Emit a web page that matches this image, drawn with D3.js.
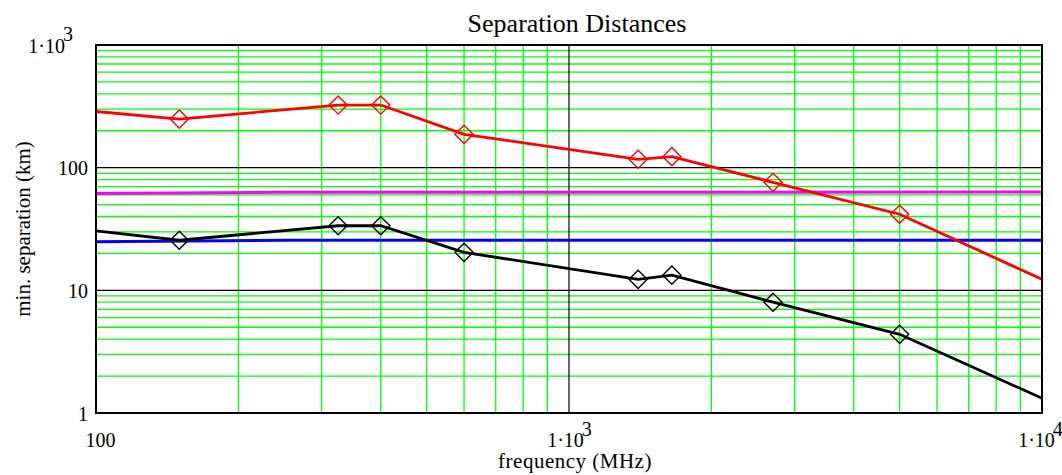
<!DOCTYPE html>
<html>
<head>
<meta charset="utf-8">
<script src="https://cdn.jsdelivr.net/npm/d3@7"></script>
<style>
  body { margin: 0; background: #fff; }
  text { font-family: "Liberation Serif", "Times New Roman", serif; fill: #000; }
</style>
</head>
<body>
<div id="chart"></div>
<script>
// frequencies (MHz) the curves are drawn through
const freqs = [100, 150, 325, 400, 600, 1400, 1650, 2700, 5000, 10000];
const redSep = [287, 249, 324, 324, 187, 117, 123, 76, 41.7, 12.3];
const blackSep = [30.5, 25.6, 33.6, 33.6, 20.4, 12.3, 13.3, 8.0, 4.38, 1.32];

// diamond markers
const markerFreqs = [150, 325, 400, 600, 1400, 1650, 2700, 5000];
const redMarkers = [249, 324, 324, 187, 117, 123, 76, 41.7];
const blackMarkers = [25.6, 33.6, 33.6, 20.4, 12.3, 13.3, 8.0, 4.38];

// flat limit lines
const limitFreqs = [100, 250, 10000];
const magentaSep = [61.5, 63, 63.2];
const blueSep = [24.9, 25.6, 25.6];

const xTicks = [100, 1000, 10000];
const yTicks = [1, 10, 100, 1000];

function drawChart() {
    const margin = {top: 45, right: 20, bottom: 62, left: 96};
    const width = 1062 - margin.left - margin.right;
    const height = 475 - margin.top - margin.bottom;

    const root = d3.select("#chart").append("svg")
        .attr("width", 1062)
        .attr("height", 475);

    const svg = root.append("g")
        .attr("transform", `translate(${margin.left},${margin.top})`);

    const x = d3.scaleLog().domain([100, 10000]).range([0, width]);
    const y = d3.scaleLog().domain([1, 1000]).range([height, 0]);

    const isMajor = v => Math.abs(Math.log10(v) - Math.round(Math.log10(v))) < 1e-9;

    // minor grid (green)
    svg.append("g").selectAll("line")
        .data(x.ticks().filter(v => !isMajor(v)))
        .enter().append("line")
        .attr("x1", d => x(d)).attr("x2", d => x(d))
        .attr("y1", 0).attr("y2", height)
        .attr("stroke", "#00ff00").attr("stroke-width", 1.3);

    svg.append("g").selectAll("line")
        .data(y.ticks().filter(v => !isMajor(v)))
        .enter().append("line")
        .attr("x1", 0).attr("x2", width)
        .attr("y1", d => y(d)).attr("y2", d => y(d))
        .attr("stroke", "#00ff00").attr("stroke-width", 1.3);

    // major grid (black)
    svg.append("g").selectAll("line")
        .data(xTicks.slice(1, -1))
        .enter().append("line")
        .attr("x1", d => x(d)).attr("x2", d => x(d))
        .attr("y1", 0).attr("y2", height)
        .attr("stroke", "#000").attr("stroke-width", 1.2);

    svg.append("g").selectAll("line")
        .data(yTicks.slice(1, -1))
        .enter().append("line")
        .attr("x1", 0).attr("x2", width)
        .attr("y1", d => y(d)).attr("y2", d => y(d))
        .attr("stroke", "#000").attr("stroke-width", 1.2);

    const line = d3.line()
        .x(d => x(d[0]))
        .y(d => y(d[1]));

    const series = [
        {f: limitFreqs, v: magentaSep, color: "#ff00ff", w: 3},
        {f: limitFreqs, v: blueSep, color: "#0000ff", w: 3},
        {f: freqs, v: redSep, color: "#ff0000", w: 2.8},
        {f: freqs, v: blackSep, color: "#000000", w: 2.8}
    ];

    svg.selectAll(".curve")
        .data(series)
        .enter().append("path")
        .attr("class", "curve")
        .attr("d", s => line(s.f.map((f, i) => [f, s.v[i]])))
        .attr("fill", "none")
        .attr("stroke", s => s.color)
        .attr("stroke-width", s => s.w);

    const diamond = d3.symbol().type(d3.symbolSquare).size(165);

    const markerSets = [
        {v: redMarkers, color: "#ff0000"},
        {v: blackMarkers, color: "#000000"}
    ];

    markerSets.forEach(m => {
        svg.append("g").selectAll("path")
            .data(markerFreqs.map((f, i) => [f, m.v[i]]))
            .enter().append("path")
            .attr("d", diamond)
            .attr("transform", d => `translate(${x(d[0])},${y(d[1])}) rotate(45)`)
            .attr("fill", "none")
            .attr("stroke", m.color)
            .attr("stroke-width", 1.4);
    });

    // frame
    svg.append("rect")
        .attr("width", width).attr("height", height)
        .attr("fill", "none")
        .attr("stroke", "#000")
        .attr("stroke-width", 2);

    // tick labels, powers written as 1·10 with a raised exponent
    function writeLabel(sel, v, raise) {
        sel.text(null);
        const p = Math.round(Math.log10(v));
        if (v >= 1000) {
            sel.append("tspan").text("1\u00b710");
            sel.append("tspan").attr("dx", -2).attr("dy", -raise).text(p);
        } else {
            sel.text(v);
        }
    }

    const xAxis = svg.append("g")
        .attr("transform", `translate(0,${height})`)
        .call(d3.axisBottom(x).tickValues(xTicks).tickSize(0).tickPadding(0));
    xAxis.select(".domain").remove();
    xAxis.selectAll("text")
        .attr("y", 34).attr("dy", null)
        .style("font-size", "20px")
        .attr("font-family", null)
        .each(function(d) { writeLabel(d3.select(this), d, 11); });
    xAxis.selectAll("text").filter(d => d === 100).attr("x", 4);
    xAxis.selectAll("text").filter(d => d === 10000).attr("x", -2);

    const yAxis = svg.append("g")
        .call(d3.axisLeft(y).tickValues(yTicks).tickSize(0).tickPadding(8));
    yAxis.select(".domain").remove();
    yAxis.selectAll("text")
        .attr("dy", "0.36em")
        .style("font-size", "20px")
        .attr("font-family", null)
        .each(function(d) { writeLabel(d3.select(this), d, 12); });
    yAxis.selectAll("text").filter(d => d === 1000).attr("x", -23);

    root.append("text")
        .attr("x", 577).attr("y", 32)
        .attr("text-anchor", "middle")
        .style("font-size", "26px")
        .text("Separation Distances");

    root.append("text")
        .attr("x", 575).attr("y", 468)
        .attr("text-anchor", "middle")
        .style("font-size", "21px")
        .style("letter-spacing", "0.5px")
        .text("frequency  (MHz)");

    root.append("text")
        .attr("transform", `translate(30,${margin.top + height / 2}) rotate(-90)`)
        .attr("text-anchor", "middle")
        .style("font-size", "21px")
        .text("min. separation (km)");
}

drawChart();
</script>
</body>
</html>
